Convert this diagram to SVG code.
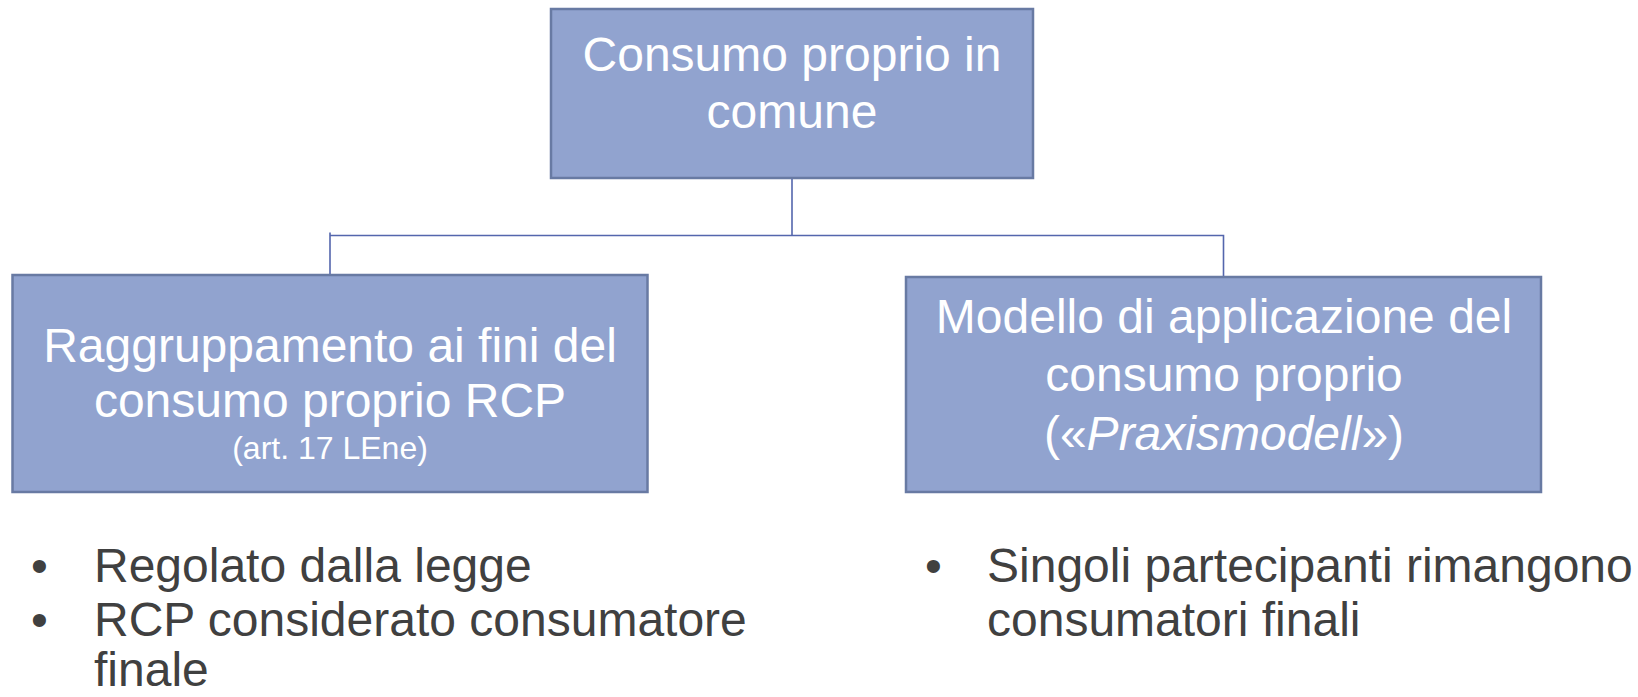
<svg xmlns="http://www.w3.org/2000/svg" width="1638" height="697" viewBox="0 0 1638 697">
<style>
.box{fill:#91a3cf;stroke:#687aa3;stroke-width:2.5}
.t{font-family:"Liberation Sans",Arial,sans-serif;fill:#ffffff;text-anchor:middle;font-size:48px}
.s{font-size:32px}
.b{font-family:"Liberation Sans",Arial,sans-serif;fill:#404040;font-size:48px}
.c{fill:none;stroke:#5466ad;stroke-width:1.6}
</style>
<rect width="1638" height="697" fill="#ffffff"/>
<g id="connectors">
<path class="c" d="M792 178V235.5"/>
<path class="c" d="M330 232.5V275M330 235.5H1223.5V277"/>
</g>
<g id="top">
<rect class="box" x="551" y="9" width="482" height="169"/>
<text class="t" x="792" y="71">Consumo proprio in</text>
<text class="t" x="792" y="128">comune</text>
</g>
<g id="left">
<rect class="box" x="12.5" y="275" width="635" height="217"/>
<text class="t" x="330" y="362">Raggruppamento ai fini del</text>
<text class="t" x="330" y="417">consumo proprio RCP</text>
<text class="t s" x="330" y="459">(art. 17 LEne)</text>
</g>
<g id="right">
<rect class="box" x="906" y="277" width="635" height="215"/>
<text class="t" x="1224" y="332.5">Modello di applicazione del</text>
<text class="t" x="1224" y="391">consumo proprio</text>
<text class="t" x="1224" y="450">(«<tspan font-style="italic">Praxismodell</tspan>»)</text>
</g>
<g id="bullets-left">
<text class="b" x="31" y="581.5">•</text>
<text class="b" x="94" y="581.5">Regolato dalla legge</text>
<text class="b" x="31" y="636">•</text>
<text class="b" x="94" y="636">RCP considerato consumatore</text>
<text class="b" x="94" y="686">finale</text>
</g>
<g id="bullets-right">
<text class="b" x="925" y="581.5">•</text>
<text class="b" x="987" y="581.5">Singoli partecipanti rimangono</text>
<text class="b" x="987" y="636">consumatori finali</text>
</g>
</svg>
